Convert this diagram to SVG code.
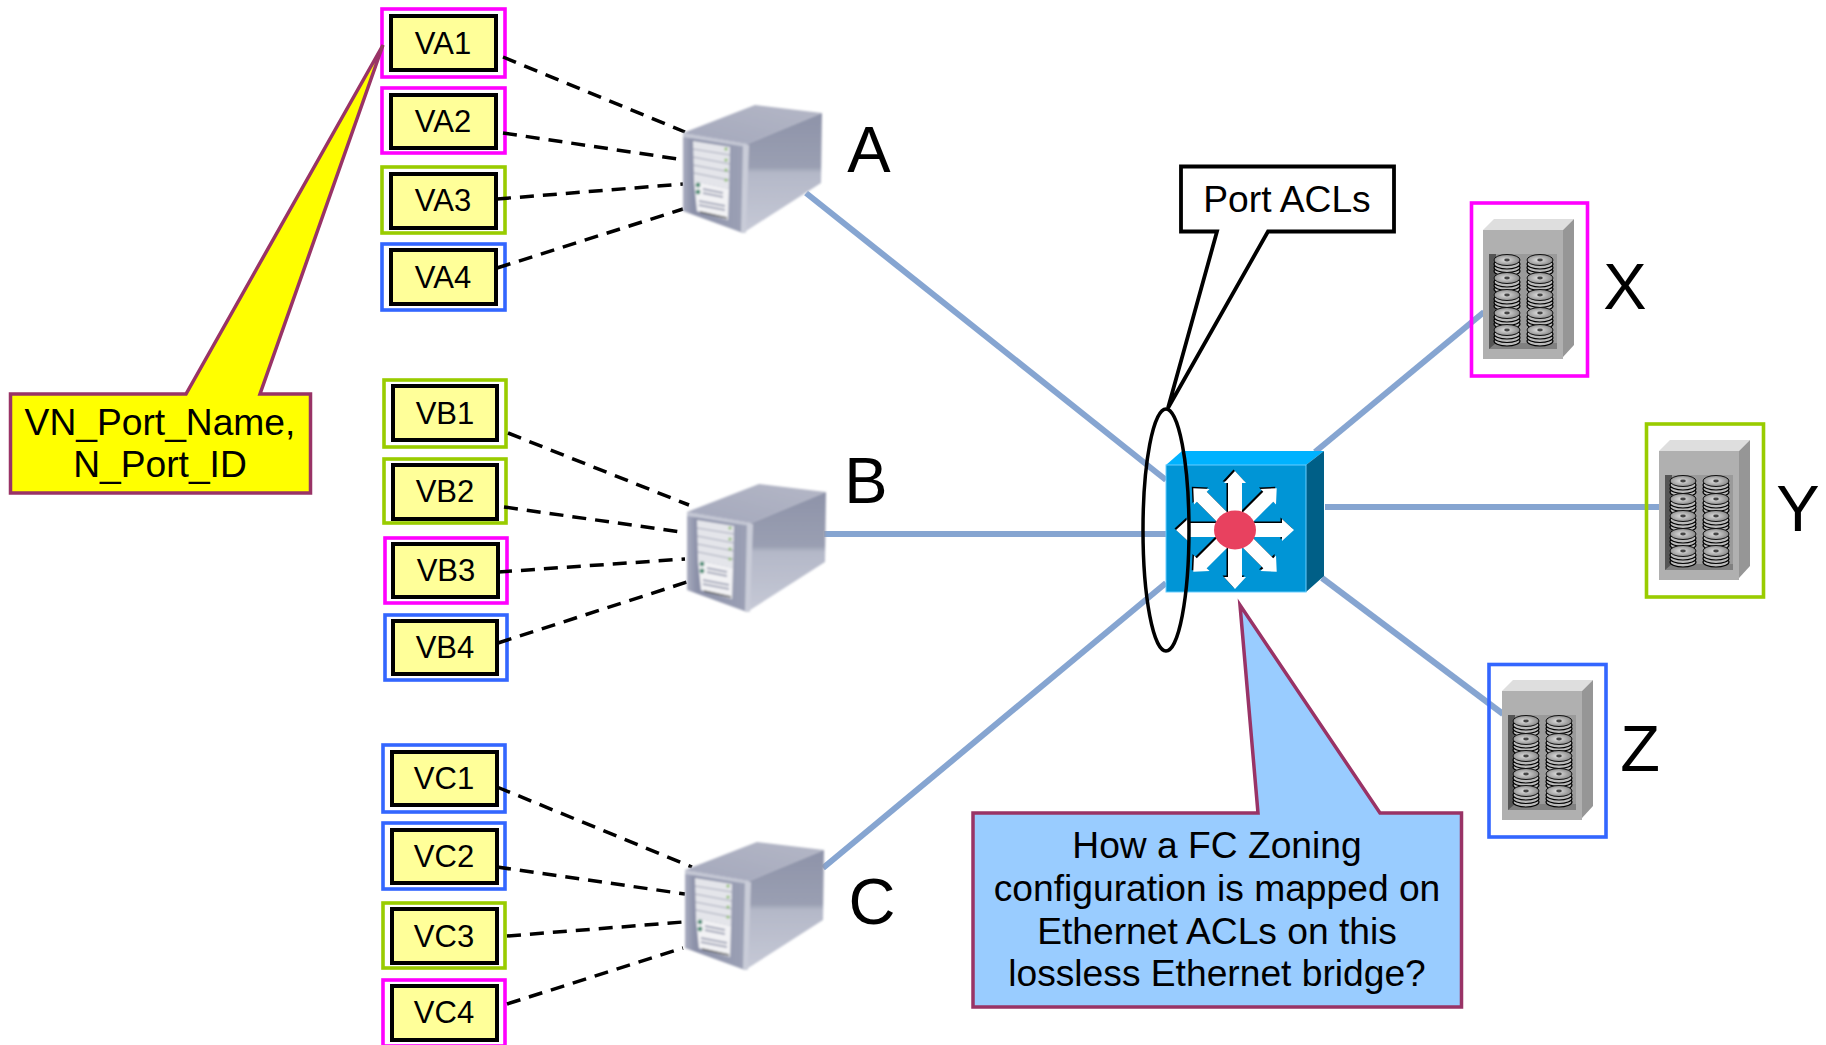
<svg xmlns="http://www.w3.org/2000/svg" width="1826" height="1045" viewBox="0 0 1826 1045">
<style>
text{font-family:"Liberation Sans",Arial,sans-serif;fill:#000;text-anchor:middle}
.v{font-size:31px}
.big{font-size:65px}
.c{font-size:37.2px}
.frame{fill:none;stroke-width:3.6}
.m{stroke:#ff00ff}.g{stroke:#99cc00}.b{stroke:#3366ff}
.in{fill:#ffff99;stroke:#000;stroke-width:4}
.dash{fill:none;stroke:#000;stroke-width:3.5;stroke-dasharray:14 9}
.link{fill:none;stroke:#86a5d1;stroke-width:6}
.call{stroke:#993366;stroke-width:3.5;stroke-linejoin:miter}
</style>
<defs>
<linearGradient id="gTop" x1="0" y1="1" x2="1" y2="0"><stop offset="0" stop-color="#a4a8bc"/><stop offset="1" stop-color="#b4b7c6"/></linearGradient>
<linearGradient id="gSide" x1="0" y1="0" x2="0" y2="1"><stop offset="0" stop-color="#8e93a9"/><stop offset=".45" stop-color="#9a9fb2"/><stop offset=".5" stop-color="#b4b8c8"/><stop offset="1" stop-color="#c6c9d6"/></linearGradient>
<linearGradient id="gFront" x1="0" y1="0" x2="1" y2="0"><stop offset="0" stop-color="#a9adc0"/><stop offset=".15" stop-color="#8b90a8"/><stop offset="1" stop-color="#9da2b6"/></linearGradient>
<radialGradient id="gDisk" cx=".45" cy=".5" r=".6"><stop offset="0" stop-color="#e0e0e0"/><stop offset="1" stop-color="#808080"/></radialGradient>
<filter id="soft" x="-10%" y="-10%" width="120%" height="120%"><feGaussianBlur stdDeviation="0.9"/></filter>
<g id="server" filter="url(#soft)">
<polygon points="0,0 72,-28 139,-20 64,11" fill="url(#gTop)"/>
<polygon points="64,11 139,-20 138,50 60,100" fill="url(#gSide)"/>
<polygon points="0,0 64,11 60,100 0,78" fill="url(#gFront)"/>
<polygon points="0,0 64,11 64,14 0,4" fill="#c4c7d4"/>
<polygon points="60,12 66,12 63,100 58,99" fill="#c9ccd8"/>
<polygon points="10,8 47,14 46,56 11,48" fill="#e4e5ea"/>
<polygon points="11,48 46,56 45,87 14,78" fill="#f2f2f4"/>
<g stroke="#a7aabb" stroke-width="1.2" fill="none"><path d="M10,16 47,22M10,24 47,31M10,32 47,39M11,40 46,47"/><path d="M20,56 40,60M20,60 40,64M16,68 42,73M16,72 42,77" stroke-width="2"/></g>
<g fill="#8fbf70"><circle cx="43" cy="16" r="1.6"/><circle cx="43" cy="27" r="1.6"/><circle cx="43" cy="37" r="1.6"/><circle cx="43" cy="47" r="1.6"/></g>
<circle cx="15" cy="52" r="2.4" fill="#4f8f78"/><circle cx="15" cy="59" r="2.4" fill="#4f8f78"/>
<path d="M17,79 44,85" stroke="#555" stroke-width="1.5"/>
</g>
<g id="disk">
<ellipse cx="0" cy="11" rx="13" ry="5" fill="#bbb" stroke="#000" stroke-width="1.100"/>
<ellipse cx="0" cy="7.500" rx="13" ry="5" fill="#bbb" stroke="#000" stroke-width="1.100"/>
<ellipse cx="0" cy="4" rx="13" ry="5" fill="#bbb" stroke="#000" stroke-width="1.100"/>
<ellipse cx="0" cy="0" rx="13" ry="5.500" fill="url(#gDisk)" stroke="#111" stroke-width="1"/>
<ellipse cx="0" cy="0" rx="2.800" ry="1.400" fill="#444"/>
</g>
<g id="cab">
<polygon points="0,0 11,-11 91,-11 80,0" fill="#dedede"/>
<polygon points="80,0 91,-11 91,115 80,127" fill="#969696"/>
<rect x="0" y="0" width="80" height="129" fill="#b0b0b0"/>
<rect x="6" y="24" width="68" height="95" fill="#9a9a9a"/>
<rect x="6" y="24" width="7" height="95" fill="#555"/>
<polygon points="6,119 13,113 74,113 74,119" fill="#808080"/>
<use href="#disk" x="24" y="30"/><use href="#disk" x="57" y="30"/>
<use href="#disk" x="24" y="48"/><use href="#disk" x="57" y="48"/>
<use href="#disk" x="24" y="65"/><use href="#disk" x="57" y="65"/>
<use href="#disk" x="24" y="83"/><use href="#disk" x="57" y="83"/>
<use href="#disk" x="24" y="100"/><use href="#disk" x="57" y="100"/>
</g>
<path id="arrow" d="M-7,0V-47H-11L0,-59 11,-47H7V0Z"/>
<g id="star">
<use href="#arrow"/><use href="#arrow" transform="rotate(45)"/><use href="#arrow" transform="rotate(90)"/><use href="#arrow" transform="rotate(135)"/><use href="#arrow" transform="rotate(180)"/><use href="#arrow" transform="rotate(225)"/><use href="#arrow" transform="rotate(270)"/><use href="#arrow" transform="rotate(315)"/>
</g>
</defs>
<rect width="1826" height="1045" fill="#fff"/>

<g id="VA1"><rect class="frame m" x="382" y="9" width="123" height="68"/><rect class="in" x="391" y="16" width="105" height="54"/><text class="v" x="443" y="54">VA1</text></g>
<g id="VA2"><rect class="frame m" x="382" y="88" width="123" height="65"/><rect class="in" x="391" y="95" width="105" height="53"/><text class="v" x="443" y="132">VA2</text></g>
<g id="VA3"><rect class="frame g" x="382" y="167" width="123" height="66"/><rect class="in" x="391" y="174" width="105" height="54"/><text class="v" x="443" y="211">VA3</text></g>
<g id="VA4"><rect class="frame b" x="382" y="244" width="123" height="66"/><rect class="in" x="391" y="250" width="105" height="54"/><text class="v" x="443" y="288">VA4</text></g>
<g id="VB1"><rect class="frame g" x="384" y="380" width="122" height="67"/><rect class="in" x="393" y="386" width="104" height="54"/><text class="v" x="445" y="424">VB1</text></g>
<g id="VB2"><rect class="frame g" x="384" y="459" width="122" height="64"/><rect class="in" x="393" y="465" width="104" height="54"/><text class="v" x="445" y="502">VB2</text></g>
<g id="VB3"><rect class="frame m" x="385" y="538" width="122" height="65"/><rect class="in" x="393" y="544" width="105" height="53"/><text class="v" x="446" y="581">VB3</text></g>
<g id="VB4"><rect class="frame b" x="385" y="615" width="122" height="65"/><rect class="in" x="393" y="621" width="104" height="53"/><text class="v" x="445" y="658">VB4</text></g>
<g id="VC1"><rect class="frame b" x="383" y="745" width="122" height="67"/><rect class="in" x="392" y="752" width="105" height="53"/><text class="v" x="444" y="789">VC1</text></g>
<g id="VC2"><rect class="frame b" x="383" y="823" width="122" height="66"/><rect class="in" x="392" y="830" width="105" height="53"/><text class="v" x="444" y="867">VC2</text></g>
<g id="VC3"><rect class="frame g" x="383" y="903" width="122" height="65"/><rect class="in" x="392" y="909" width="105" height="54"/><text class="v" x="444" y="947">VC3</text></g>
<g id="VC4"><rect class="frame m" x="383" y="980" width="122" height="66"/><rect class="in" x="392" y="986" width="105" height="54"/><text class="v" x="444" y="1023">VC4</text></g>

<g id="connectors">
<line class="link" x1="806" y1="193" x2="1166" y2="480"/>
<line class="link" x1="824" y1="534" x2="1166" y2="534"/>
<line class="link" x1="823" y1="868" x2="1166" y2="583"/>
<line class="link" x1="1315" y1="452" x2="1484" y2="312"/>
<line class="link" x1="1325" y1="507" x2="1660" y2="507"/>
<line class="link" x1="1322" y1="578" x2="1503" y2="714"/>
<line class="dash" x1="503" y1="57" x2="685" y2="132"/>
<line class="dash" x1="503" y1="133" x2="678" y2="159"/>
<line class="dash" x1="497" y1="199" x2="683" y2="184"/>
<line class="dash" x1="497" y1="268" x2="683" y2="209"/>
<line class="dash" x1="508" y1="433" x2="689" y2="505"/>
<line class="dash" x1="504" y1="507" x2="681" y2="532"/>
<line class="dash" x1="498" y1="572" x2="685" y2="559"/>
<line class="dash" x1="498" y1="643" x2="687" y2="582"/>
<line class="dash" x1="497" y1="787" x2="692" y2="867"/>
<line class="dash" x1="497" y1="867" x2="685" y2="894"/>
<line class="dash" x1="507" y1="936" x2="683" y2="922"/>
<line class="dash" x1="507" y1="1004" x2="683" y2="948"/>
</g>

<g id="A"><use href="#server" x="683" y="133"/><text class="big" x="869" y="172">A</text></g>
<g id="B"><use href="#server" x="687" y="512"/><text class="big" x="866" y="503">B</text></g>
<g id="C"><use href="#server" x="685" y="870"/><text class="big" x="872" y="924">C</text></g>

<g id="switch">
<polygon points="1166,465 1182,451 1324,451 1306,465" fill="#00b2ff"/>
<polygon points="1306,465 1324,451 1324,576 1306,592" fill="#005f87"/>
<rect x="1166" y="465" width="140" height="127" fill="#0095d6" stroke="#66ccff" stroke-width="1"/>
<use href="#star" transform="translate(1233.500,528.500)" fill="#000"/>
<use href="#star" transform="translate(1235,530)" fill="#fff"/>
<ellipse cx="1235" cy="530" rx="21" ry="19.500" fill="#e8415f"/>
</g>
<g id="port-ellipse"><ellipse cx="1166" cy="530" rx="23" ry="121" fill="none" stroke="#000" stroke-width="3.500"/></g>

<g id="X"><use href="#cab" x="1483" y="230"/><rect class="frame m" x="1471.500" y="203" width="116" height="173"/><text class="big" x="1625" y="309">X</text></g>
<g id="Y"><use href="#cab" x="1659" y="451"/><rect class="frame g" x="1646.500" y="424" width="117" height="173"/><text class="big" x="1798" y="531">Y</text></g>
<g id="Z"><use href="#cab" x="1502" y="691"/><rect class="frame b" x="1489" y="664.500" width="117" height="172.500"/><text class="big" x="1640" y="771">Z</text></g>

<g id="callout-name">
<polygon class="call" points="10.500,394 186,394 383,45 260,394 310.500,394 310.500,493 10.500,493" fill="#ffff00"/>
<text class="c" x="160" y="435">VN_Port_Name,</text>
<text class="c" x="160" y="477">N_Port_ID</text>
</g>
<g id="callout-acl">
<polygon points="1181,166.500 1394,166.500 1394,231.500 1268,231.500 1168,408 1217,231.500 1181,231.500" fill="#fff" stroke="#000" stroke-width="3.800"/>
<text class="c" x="1287" y="212">Port ACLs</text>
</g>
<g id="callout-zoning">
<polygon class="call" points="973,813 1258,813 1240,605 1380,813 1461.500,813 1461.500,1007 973,1007" fill="#99ccff"/>
<text class="c" x="1217" y="858">How a FC Zoning</text>
<text class="c" x="1217" y="901">configuration is mapped on</text>
<text class="c" x="1217" y="944">Ethernet ACLs on this</text>
<text class="c" x="1217" y="986">lossless Ethernet bridge?</text>
</g>
</svg>
